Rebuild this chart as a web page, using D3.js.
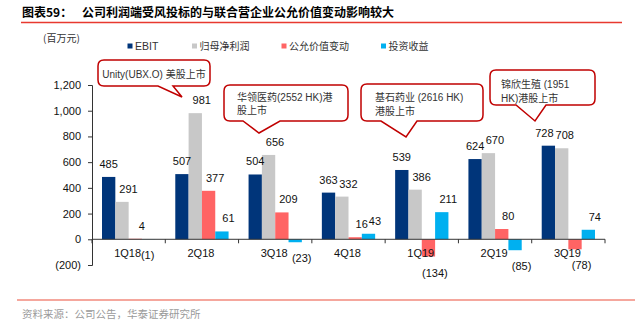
<!DOCTYPE html>
<meta charset="utf-8">
<script src="https://d3js.org/d3.v7.min.js"></script>
<style>
  body { margin: 0; background: #fff; }
  text { font-family: "Liberation Sans", Arial, "Noto Sans CJK SC", sans-serif; }
  .cjk { font-family: "Noto Sans CJK SC", sans-serif; }
</style>
<body>
<div id="chart"></div>
<script>
    // quarters and the four series (百万元)
    const quarters = ["1Q18", "2Q18", "3Q18", "4Q18", "1Q19", "2Q19", "3Q19"];
    const seriesNames = ["EBIT", "归母净利润", "公允价值变动", "投资收益"];
    const ebit = [485, 507, 504, 363, 539, 624, 728];
    const netProfit = [291, 981, 656, 332, 386, 670, 708];
    const fairValue = [4, 377, 209, 16, -134, 80, -78];
    const investIncome = [-1, 61, -23, 43, 211, -85, 74];
    const yTicks = [-200, 0, 200, 400, 600, 800, 1000, 1200];

    const colours = ["#00357a", "#c8c8c8", "#ff6464", "#00b0f0"];

    // callout notes: text lines and box placement
    const notes = [
        {lines: ["Unity(UBX.O) 美股上市"], box: [98, 60, 210, 86], base: [158, 173], tip: [182, 97], tx: 154, anchor: "middle", ty: 77.5},
        {lines: ["华领医药(2552 HK)港", "股上市"], box: [224, 85, 348, 121], base: [243, 280], tip: [259, 133], tx: 237, anchor: "start", ty: 100.5},
        {lines: ["基石药业 (2616 HK)", "港股上市"], box: [361, 84, 483, 121], base: [381, 417], tip: [406, 137], tx: 375, anchor: "start", ty: 101},
        {lines: ["锦欣生殖 (1951", "HK)港股上市"], box: [490, 70, 595, 105], base: [516, 546], tip: [535, 121], tx: 501, anchor: "start", ty: 88}
    ];

    // small manual nudges of single value labels (quarter index, series index) -> dx
    const labelNudge = {"0-3": -7.5, "6-0": -4, "6-1": -3.5};

    const W = 635, H = 324;
    const svg = d3.select("#chart").append("svg")
        .attr("width", W).attr("height", H);

    // title
    svg.append("text").attr("x", 22).attr("y", 17)
        .attr("class", "cjk")
        .style("font-size", "12px").style("font-weight", "bold")
        .text("图表59：");
    svg.append("text").attr("x", 82).attr("y", 17)
        .attr("class", "cjk")
        .style("font-size", "12px").style("font-weight", "bold")
        .text("公司利润端受风投标的与联合营企业公允价值变动影响较大");
    svg.append("line").attr("x1", 21).attr("x2", 622).attr("y1", 22.5).attr("y2", 22.5)
        .attr("stroke", "#e8392f").attr("stroke-width", 1.5);

    // footer
    svg.append("line").attr("x1", 17).attr("x2", 635).attr("y1", 300).attr("y2", 300)
        .attr("stroke", "#f28a7c").attr("stroke-width", 1.5);
    svg.append("text").attr("x", 22).attr("y", 318)
        .attr("class", "cjk")
        .style("font-size", "10.5px").style("fill", "#9a9a9a")
        .text("资料来源：公司公告，华泰证券研究所");

    // unit
    svg.append("text").attr("x", 43).attr("y", 42)
        .attr("class", "cjk")
        .style("font-size", "10px").style("fill", "#333")
        .text("(百万元)");

    // legend
    const legendX = [127.5, 192, 281.5, 381];
    seriesNames.forEach(function (name, i) {
        svg.append("rect").attr("x", legendX[i]).attr("y", 43.5)
            .attr("width", 5).attr("height", 5).attr("fill", colours[i]);
        svg.append("text").attr("x", legendX[i] + 7.5).attr("y", 50)
            .attr("class", i === 0 ? null : "cjk")
            .style("font-size", i === 0 ? "10.5px" : "10px").style("fill", "#333")
            .text(name);
    });

    // scales
    const x0 = d3.scaleBand().domain(quarters).range([92, 605]).padding(0);
    const x1 = d3.scaleBand().domain(d3.range(4))
        .range([10, x0.bandwidth() - 10]).padding(0);
    const y = d3.scaleLinear().domain([-200, 1200]).range([265, 85]);

    const g = svg.append("g");

    // y axis
    const yAxis = d3.axisLeft(y).tickValues(yTicks).tickSize(4)
        .tickFormat(function (d) { return d < 0 ? "(" + d3.format(",")(-d) + ")" : d3.format(",")(d); });
    const ya = g.append("g").attr("transform", "translate(92,0)").call(yAxis);
    ya.select(".domain").attr("stroke", "#333");
    ya.selectAll(".tick line").attr("stroke", "#333");
    ya.selectAll(".tick text").style("font-size", "11px").style("fill", "#111")
        .style("font-family", "Liberation Sans, Arial, sans-serif").attr("x", -11);

    // bars
    const allSeries = [ebit, netProfit, fairValue, investIncome];
    const rows = [];
    quarters.forEach(function (q, qi) {
        allSeries.forEach(function (s, si) {
            rows.push({q: q, qi: qi, s: si, v: s[qi]});
        });
    });

    g.selectAll("rect.bar").data(rows).enter().append("rect")
        .attr("class", "bar")
        .attr("x", function (d) { return x0(d.q) + x1(d.s); })
        .attr("y", function (d) { return y(Math.max(0, d.v)); })
        .attr("width", x1.bandwidth())
        .attr("height", function (d) { return Math.abs(y(d.v) - y(0)); })
        .attr("fill", function (d) { return colours[d.s]; });

    // x axis line and boundary ticks
    g.append("line").attr("x1", 92).attr("x2", 605)
        .attr("y1", y(0)).attr("y2", y(0)).attr("stroke", "#333");
    const bounds = quarters.map(function (q) { return x0(q); }).concat([605]);
    g.selectAll("line.xt").data(bounds).enter().append("line")
        .attr("class", "xt")
        .attr("x1", function (d) { return d; }).attr("x2", function (d) { return d; })
        .attr("y1", y(0)).attr("y2", y(0) + 4).attr("stroke", "#333");

    // category labels
    g.selectAll("text.cat").data(quarters).enter().append("text")
        .attr("class", "cat")
        .attr("x", function (d) { return x0(d) + x0.bandwidth() / 2 - 1; })
        .attr("y", y(0) + 17.5)
        .attr("text-anchor", "middle")
        .style("font-size", "11px").style("fill", "#111")
        .text(function (d) { return d; });

    // value labels
    g.selectAll("text.val").data(rows).enter().append("text")
        .attr("class", "val")
        .attr("x", function (d) {
            const nudge = labelNudge[d.qi + "-" + d.s] || 0;
            return x0(d.q) + x1(d.s) + x1.bandwidth() / 2 + (d.s === 0 ? 0 : 6.5) + nudge;
        })
        .attr("y", function (d) { return d.v >= 0 ? y(d.v) - 9 : y(d.v) + 20; })
        .attr("text-anchor", "middle")
        .style("font-size", "11px").style("fill", "#111")
        .text(function (d) { return d.v < 0 ? "(" + (-d.v) + ")" : d.v; });

    // callouts
    notes.forEach(function (n) {
        const [bx0, by0, bx1, by1] = n.box, r = 6;
        const p = "M" + (bx0 + r) + "," + by0 + " H" + (bx1 - r) +
            " Q" + bx1 + "," + by0 + " " + bx1 + "," + (by0 + r) +
            " V" + (by1 - r) +
            " Q" + bx1 + "," + by1 + " " + (bx1 - r) + "," + by1 +
            " H" + n.base[1] + " L" + n.tip[0] + "," + n.tip[1] + " L" + n.base[0] + "," + by1 +
            " H" + (bx0 + r) +
            " Q" + bx0 + "," + by1 + " " + bx0 + "," + (by1 - r) +
            " V" + (by0 + r) +
            " Q" + bx0 + "," + by0 + " " + (bx0 + r) + "," + by0 + " Z";
        svg.append("path").attr("d", p).attr("fill", "#fff")
            .attr("stroke", "#c00000").attr("stroke-width", 1.5);
        n.lines.forEach(function (line, li) {
            svg.append("text").attr("x", n.tx).attr("y", n.ty + li * 13.5)
                .attr("text-anchor", n.anchor)
                .style("font-size", "10px").style("fill", "#333")
                .text(line);
        });
    });
</script>
</body>
